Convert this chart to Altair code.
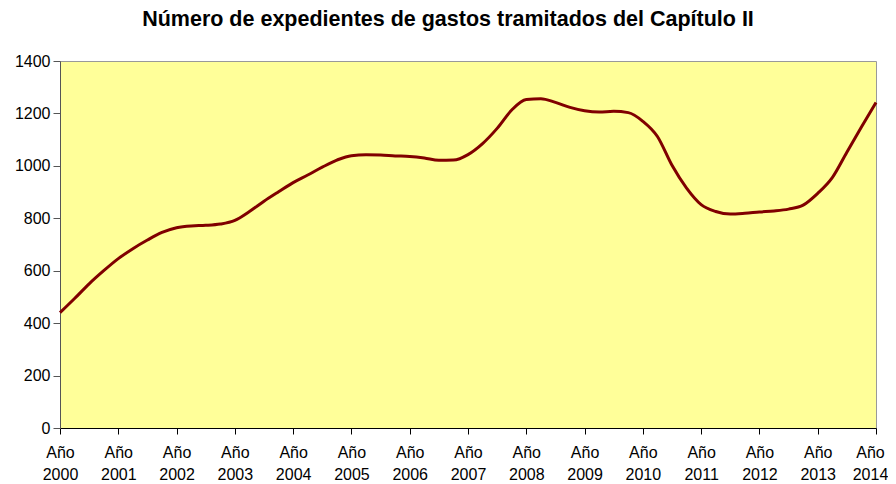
import altair as alt
import pandas as pd

title_text = "Número de expedientes de gastos tramitados del Capítulo II"
year_ticks = list(range(2000, 2015))
y_ticks = [0, 200, 400, 600, 800, 1000, 1200, 1400]

# quarterly positions (fractional years) and values
periodos = [2000 + q / 4 for q in range(57)]
expedientes = [
    440, 494, 550, 600,
    646, 684, 717, 746,
    764, 771, 773, 778,
    792, 826, 865, 901,
    936, 965, 995, 1022,
    1039, 1042, 1041, 1038,
    1036, 1030, 1021, 1022,
    1043, 1085, 1143, 1213,
    1253, 1256, 1242, 1223,
    1210, 1205, 1208, 1203,
    1170, 1112, 1002, 915,
    852, 826, 816, 819,
    824, 828, 835, 850,
    895, 955, 1052, 1148,
    1242,
]

df = pd.DataFrame({"periodo": periodos, "expedientes": expedientes})

FONT = "Liberation Sans"

chart = (
    alt.Chart(df)
    .mark_line(color="#800000", strokeWidth=3, interpolate="monotone")
    .encode(
        x=alt.X(
            "periodo:Q",
            scale=alt.Scale(domain=[2000, 2014], nice=False, zero=False),
            axis=alt.Axis(
                values=year_ticks,
                labelExpr="['Año', '' + datum.value]",
                title=None,
                grid=False,
                domainColor="#000000",
                tickColor="#000000",
                tickSize=6,
                labelFont=FONT,
                labelFontSize=16,
                labelColor="#000000",
                labelLineHeight=22,
                labelPadding=10,
                labelOffset={"expr": "datum.value == 2014 ? -6 : 0"},
                labelFlush=False,
                labelOverlap=False,
            ),
        ),
        y=alt.Y(
            "expedientes:Q",
            scale=alt.Scale(domain=[0, 1400], nice=False),
            axis=alt.Axis(
                values=y_ticks,
                format="d",
                title=None,
                grid=False,
                domainColor="#555555",
                tickColor="#555555",
                tickSize=7,
                labelFont=FONT,
                labelFontSize=16,
                labelColor="#000000",
                labelPadding=3,
                labelFlush=False,
            ),
        ),
    )
    .properties(
        width=816,
        height=367,
        title=alt.TitleParams(
            text=title_text,
            font=FONT,
            fontSize=21.5,
            fontWeight="bold",
            color="#000000",
            anchor="middle",
            dx=-20,
            offset=23,
        ),
        autosize=alt.AutoSizeParams(type="none"),
        padding={"left": 52, "top": 53, "right": 12, "bottom": 56},
    )
    .configure_view(fill="#FFFF99", stroke="#999999", strokeWidth=1)
)

chart.save("out.html", embed_options={"renderer": "svg", "actions": False})
